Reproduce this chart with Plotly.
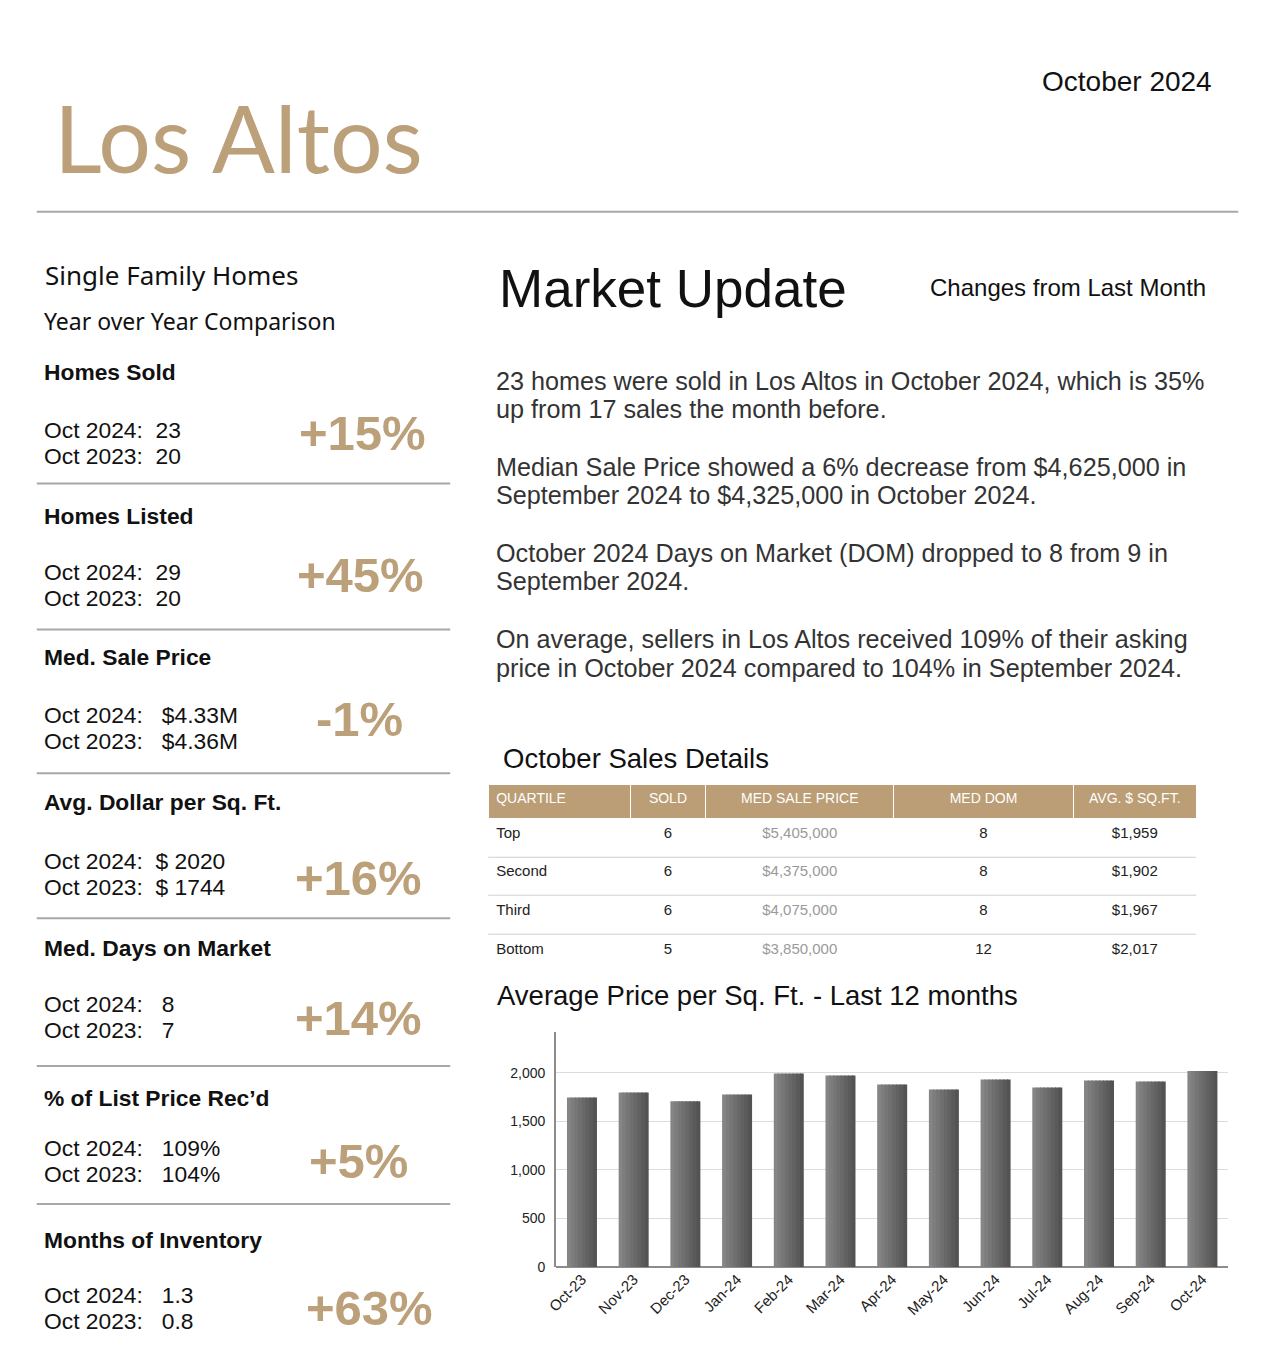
import plotly.graph_objects as go

W, H = 1275, 1361
TAN = "#bba07a"
GRAY_LINE = "#a8a8a8"
ARIAL = "Liberation Sans, Arial"
HUMAN = "Noto Sans, Lato"

# left panel - year over year
sections = ["Homes Sold", "Homes Listed", "Med. Sale Price", "Avg. Dollar per Sq. Ft.",
            "Med. Days on Market", "% of List Price Rec\u2019d", "Months of Inventory"]
oct_2024 = ["23", "29", " $4.33M", "$ 2020", " 8", " 109%", " 1.3"]
oct_2023 = ["20", "20", " $4.36M", "$ 1744", " 7", " 104%", " 0.8"]
changes = ["+15%", "+45%", "-1%", "+16%", "+14%", "+5%", "+63%"]

# market update text
paragraphs = [
    ["23 homes were sold in Los Altos in October 2024, which is 35%",
     "up from 17 sales the month before."],
    ["Median Sale Price showed a 6% decrease from $4,625,000 in",
     "September 2024 to $4,325,000 in October 2024."],
    ["October 2024 Days on Market (DOM) dropped to 8 from 9 in",
     "September 2024."],
    ["On average, sellers in Los Altos received 109% of their asking",
     "price in October 2024 compared to 104% in September 2024."],
]

# october sales details table
tbl_header = ["QUARTILE", "SOLD", "MED SALE PRICE", "MED DOM", "AVG. $ SQ.FT."]
quartile = ["Top", "Second", "Third", "Bottom"]
sold = [6, 6, 6, 5]
med_price = ["$5,405,000", "$4,375,000", "$4,075,000", "$3,850,000"]
med_dom = [8, 8, 8, 12]
avg_sqft = ["$1,959", "$1,902", "$1,967", "$2,017"]

# avg price per sq ft, last 12 months
months = ["Oct-23", "Nov-23", "Dec-23", "Jan-24", "Feb-24", "Mar-24", "Apr-24",
          "May-24", "Jun-24", "Jul-24", "Aug-24", "Sep-24", "Oct-24"]
price_sqft = [1747, 1798, 1706, 1778, 1993, 1973, 1880, 1829, 1932, 1850, 1921, 1911, 2020]


# page pixel -> paper coords (small correction for how the page ends up photographed)
def px(x):
    return ((x - 8.2) / 0.9934) / W


def py(y):
    return 1 - ((y + 1) / 0.995) / H


fig = go.Figure()

# bars drawn as a few vertical strips to fake the light-to-dark gradient
bar_w = 0.58
strips = ["#858585", "#7d7d7d", "#767676", "#6f6f6f", "#686868", "#616161", "#5a5a5a", "#535353"]
step = bar_w / len(strips)
for k, c in enumerate(strips):
    wk = step * 1.35 if k < len(strips) - 1 else step
    fig.add_trace(go.Bar(x=months, y=price_sqft, marker=dict(color=c, line=dict(width=0)),
                         width=wk, offset=-bar_w / 2 + k * step, hoverinfo="x+y"))

fig.add_trace(go.Table(
    domain=dict(x=[px(487), px(1196)], y=[py(975), py(784)]),
    columnwidth=[142, 76, 188, 180, 123],
    header=dict(values=tbl_header, fill_color="#bb9d76", height=34,
                align=["left", "center", "center", "center", "center"],
                line=dict(color="white", width=1),
                font=dict(family=ARIAL, size=14, color="white")),
    cells=dict(values=[quartile, sold, med_price, med_dom, avg_sqft],
               fill_color="rgba(0,0,0,0)", height=38.7,
               align=["left", "center", "center", "center", "center"],
               line=dict(color="rgba(0,0,0,0)", width=1),
               font=dict(family=ARIAL, size=15,
                         color=["#222", "#222", "#9a9a9a", "#222", "#222"])),
))

ann = []
shapes = []


def text(x, y, s, size, family=ARIAL, color="#111", xanchor="left", bold=False):
    if bold:
        s = "<b>" + s + "</b>"
    ann.append(dict(x=px(x), y=py(y), xref="paper", yref="paper", text=s, showarrow=False,
                    xanchor=xanchor, yanchor="middle", borderpad=0,
                    font=dict(family=family, size=size, color=color)))


def hline(x0, x1, y, color=GRAY_LINE, width=2):
    shapes.append(dict(type="line", xref="paper", yref="paper", x0=px(x0), x1=px(x1),
                       y0=py(y), y1=py(y), line=dict(color=color, width=width), layer="above"))


# header
text(51, 136, "Los Altos", 93, family="Lato", color=TAN)
text(1213, 81, "October 2024", 28, family=ARIAL, color="#111", xanchor="right")
hline(35, 1238, 211)

text(42, 274, "Single Family Homes", 26, family=HUMAN)
text(41, 320, "Year over Year Comparison", 23, family=HUMAN)

title_y = [371, 515, 657, 802, 948, 1098, 1240]
line_y = [429, 572, 715, 861, 1004, 1148, 1295]
pct_y = [432, 575, 719, 878, 1018, 1161, 1308]
pct_x = [361, 359, 358, 357, 357, 357, 368]
div_y = [483, 629, 773, 918, 1066, 1204]

for i in range(len(sections)):
    text(41, title_y[i], sections[i], 22.8, bold=True)
    text(41, line_y[i], "Oct 2024:  " + oct_2024[i], 22.8)
    text(41, line_y[i] + 26, "Oct 2023:  " + oct_2023[i], 22.8)
    text(pct_x[i], pct_y[i], changes[i], 49, color=TAN, xanchor="center", bold=True)
for y in div_y:
    hline(35, 449, y)

# market update
text(497, 288, "Market Update", 53, family=ARIAL)
text(1207, 287, "Changes from Last Month", 24, family=ARIAL, xanchor="right")

para_y = [380, 466, 552, 639]
for p, y0 in zip(paragraphs, para_y):
    for j, line in enumerate(p):
        text(494, y0 + j * 28.5, line, 25.2, family=ARIAL, color="#333")

text(501, 758, "October Sales Details", 27.5, family=ARIAL)
for y in [857, 895, 934]:
    hline(487, 1196, y, color="#d0d0d0", width=1)

text(495, 995, "Average Price per Sq. Ft. - Last 12 months", 27.5, family=ARIAL)

fig.update_layout(
    width=W, height=H, margin=dict(l=0, r=0, t=0, b=0),
    paper_bgcolor="white", plot_bgcolor="white",
    showlegend=False, annotations=ann, shapes=shapes,
    barmode="overlay",
    xaxis=dict(domain=[px(555), px(1228)], tickangle=-45, showgrid=False,
               tickfont=dict(family=ARIAL, size=15, color="#222"), ticks="",
               showline=False, fixedrange=True),
    yaxis=dict(domain=[py(1267), py(1032)], range=[0, 2420], tickvals=[0, 500, 1000, 1500, 2000],
               tickformat=",", gridcolor="#dcdcdc", gridwidth=1,
               tickfont=dict(family=ARIAL, size=14, color="#222"), ticklabelstandoff=6,
               showline=True, linecolor="#8c8c8c", linewidth=2, ticks="",
               zeroline=True, zerolinecolor="#8c8c8c", zerolinewidth=2, fixedrange=True),
)

fig.write_html("out.html", config={"displayModeBar": False},
               post_script="document.body.style.margin='0';"
                           "document.body.style.overflow='hidden';"
                           "document.documentElement.style.overflow='hidden';")
